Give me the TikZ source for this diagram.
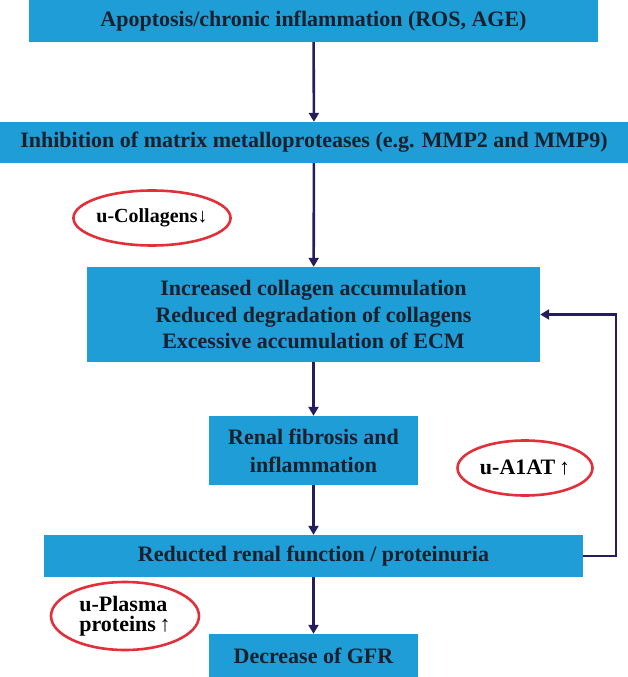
\documentclass[tikz,border=0pt]{standalone}
\usepackage{fontspec}
\setmainfont{Liberation Serif}
\usetikzlibrary{shapes.geometric,arrows.meta}
\definecolor{boxblue}{RGB}{30,157,215}
\definecolor{boxtext}{RGB}{26,32,44}
\definecolor{arrnavy}{RGB}{38,30,92}
\definecolor{ellred}{RGB}{226,48,58}
\tikzset{
  flowbox/.style={rectangle, fill=boxblue, draw=none, inner sep=0pt, align=center,
    text=boxtext, font=\fontsize{22}{26.5}\selectfont\bfseries},
  conn/.style={draw=arrnavy, line width=2.6pt, -{Triangle[width=10pt,length=9pt]}},
  tag/.style={ellipse, draw=ellred, line width=2.6pt, inner sep=0pt, align=center,
    text=black, font=\fontsize{22}{20.5}\selectfont\bfseries}
}
\newcommand{\upar}{{\mdseries\,↑}}
\newcommand{\dnar}{{\mdseries ↓}}
\begin{document}
\begin{tikzpicture}[x=1pt,y=-1pt]
\useasboundingbox (0,0) rectangle (628,677);
\node[flowbox, minimum width=569pt, minimum height=42pt] (b1) at (313.5,21) {Apoptosis/chronic inflammation (ROS, AGE)};
\node[flowbox, minimum width=628pt, minimum height=41pt] (b2) at (314,142.5) {Inhibition of matrix metalloproteases (e.g. MMP2 and MMP9)};
\node[flowbox, minimum width=453pt, minimum height=95pt] (b3) at (313.5,314.5) {Increased collagen accumulation\\Reduced degradation of collagens\\Excessive accumulation of ECM};
\node[flowbox, minimum width=209pt, minimum height=69pt, font=\fontsize{22}{28}\selectfont\bfseries] (b4) at (313.5,450.5) {Renal fibrosis and\\inflammation};
\node[flowbox, minimum width=539pt, minimum height=42pt] (b5) at (313.5,556) {Reducted renal function / proteinuria};
\node[flowbox, minimum width=209pt, minimum height=43pt] (b6) at (313.5,655.5) {Decrease of GFR};
\node[tag, minimum width=157pt, minimum height=55pt, font=\fontsize{20}{20}\selectfont\bfseries] (e1) at (152,218) {u-Collagens\dnar};
\node[tag, minimum width=135pt, minimum height=55pt] (e2) at (525,468) {u-A1AT\upar};
\node[tag, minimum width=148pt, minimum height=68pt, align=left] (e3) at (125,616) {u-Plasma\\proteins\upar};
\draw[conn] (b1) -- (b2);
\draw[conn] (b2) -- (b3);
\draw[conn] (b3) -- (b4);
\draw[conn] (b4) -- (b5);
\draw[conn] (b5) -- (b6);
\coordinate (fb1) at (616,556);
\coordinate (fb2) at (616,314.5);
\draw[conn] (b5.east) -- (fb1) -- (fb2) -- (b3.east);
\end{tikzpicture}
\end{document}
